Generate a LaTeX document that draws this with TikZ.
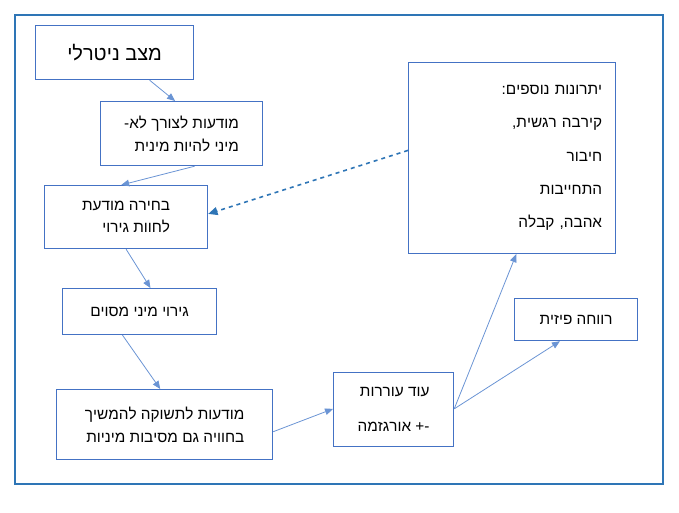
\documentclass[tikz,border=0pt]{standalone}
\usepackage{fontspec}
\setmainfont{Liberation Sans}
\usetikzlibrary{calc,arrows.meta}
\TeXXeTstate=1
\newcommand{\rl}[1]{\beginR #1\endR}
\definecolor{frame}{HTML}{2E75B6}
\definecolor{bx}{HTML}{4472C4}
\definecolor{ar}{HTML}{6A94D4}
\begin{document}
\begin{tikzpicture}[x=0.75pt,y=-0.75pt,
  box/.style={draw=bx,line width=0.9pt,inner sep=0pt,anchor=north west,font=\fontsize{11.5}{17}\selectfont},
  arr/.style={draw=ar,line width=0.6pt,-{Triangle[length=6pt,width=5pt]}}]
\useasboundingbox (0,0) rectangle (679,512);
\draw[frame,line width=1pt] (15,15) rectangle (663,484);
\node[box,minimum width=158*0.75pt,minimum height=54*0.75pt,font=\fontsize{15}{17}\selectfont] (A) at (35,25) {\rl{מצב ניטרלי}};
\node[box,minimum width=162*0.75pt,minimum height=64*0.75pt,align=right] (B) at (100,101) {\rl{מודעות לצורך לא-}\\\rl{מיני להיות מינית}};
\node[box,minimum width=163*0.75pt,minimum height=63*0.75pt,align=right] (C) at (44,185) {\rl{בחירה מודעת}\\\rl{לחוות גירוי}};
\node[box,minimum width=154*0.75pt,minimum height=46*0.75pt] (D) at (62,288) {\rl{גירוי מיני מסוים}};
\node[box,minimum width=216*0.75pt,minimum height=70*0.75pt,align=right] (E) at (56,389) {\rl{מודעות לתשוקה להמשיך}\\\rl{בחוויה גם מסיבות מיניות}};
\node[box,minimum width=120*0.75pt,minimum height=74*0.75pt,align=right,font=\fontsize{11.5}{26}\selectfont] (F) at (333,372) {\rl{עוד עוררות}\\\rl{+- אורגזמה}};
\node[box,minimum width=123*0.75pt,minimum height=42*0.75pt] (G) at (514,298) {\rl{רווחה פיזית}};
\node[box,minimum width=207*0.75pt,minimum height=191*0.75pt,align=right,font=\fontsize{11.5}{25}\selectfont,text width=180*0.75pt] (H) at (408,62) {\rl{יתרונות נוספים:}\\\rl{קירבה רגשית,}\\\rl{חיבור}\\\rl{התחייבות}\\\rl{אהבה, קבלה}};
\draw[arr] ($(A.south west)!0.72!(A.south east)$) -- ($(B.north west)!0.46!(B.north east)$);
\draw[arr] ($(B.south west)!0.58!(B.south east)$) -- ($(C.north west)!0.47!(C.north east)$);
\draw[arr] ($(C.south west)!0.5!(C.south east)$) -- ($(D.north west)!0.57!(D.north east)$);
\draw[arr] ($(D.south west)!0.39!(D.south east)$) -- ($(E.north west)!0.48!(E.north east)$);
\draw[arr] ($(E.north east)!0.6!(E.south east)$) -- ($(F.north west)!0.49!(F.south west)$);
\draw[arr] ($(F.north east)!0.49!(F.south east)$) -- ($(G.south west)!0.37!(G.south east)$);
\draw[arr] ($(F.north east)!0.49!(F.south east)$) -- ($(H.south west)!0.52!(H.south east)$);
\draw[draw=frame,line width=1.2pt,dashed,-{Triangle[length=7pt,width=6pt]}] ($(H.north west)!0.46!(H.south west)$) -- ($(C.north east)!0.45!(C.south east)$);
\end{tikzpicture}
\end{document}
